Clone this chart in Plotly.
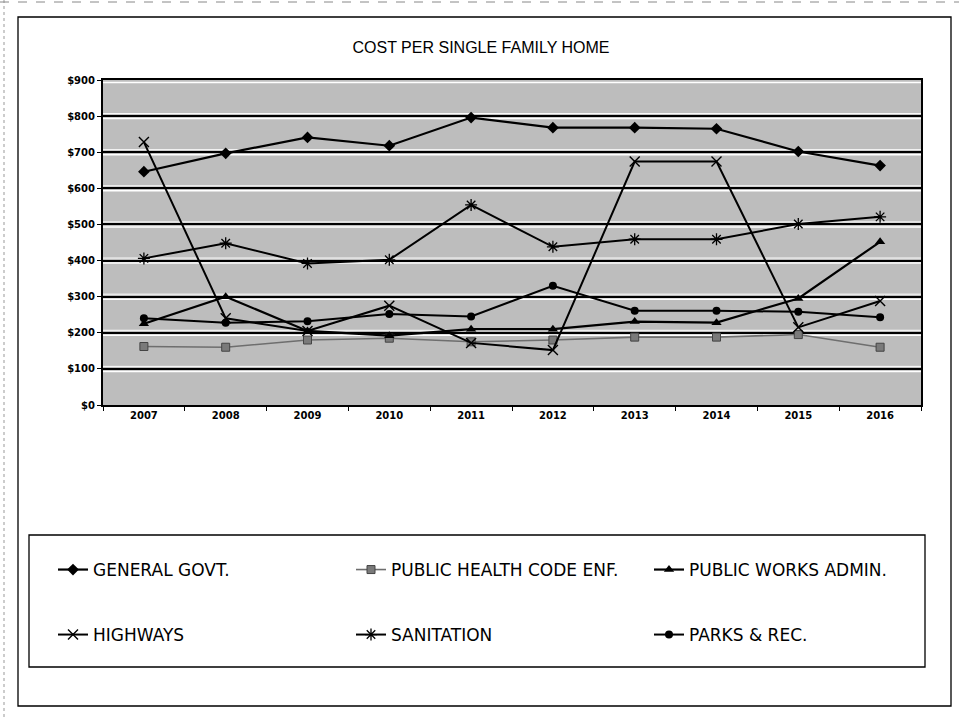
import plotly.graph_objects as go

# Annual cost per single family home, by department
years = ["2007", "2008", "2009", "2010", "2011", "2012", "2013", "2014", "2015", "2016"]
general_govt = [646, 697, 741, 718, 796, 768, 768, 765, 702, 663]
public_health = [162, 160, 180, 185, 175, 180, 188, 188, 195, 160]
public_works = [225, 300, 205, 192, 210, 210, 231, 228, 295, 452]
highways = [728, 240, 205, 275, 172, 152, 674, 674, 215, 288]
sanitation = [406, 448, 392, 402, 554, 438, 459, 459, 501, 521]
parks_rec = [240, 228, 232, 252, 245, 330, 261, 261, 258, 243]

y_ticks = [0, 100, 200, 300, 400, 500, 600, 700, 800, 900]
y_tick_text = ["$0", "$100", "$200", "$300", "$400", "$500", "$600", "$700", "$800", "$900"]

FONT = "Liberation Sans, Arial, sans-serif"
WIDE = "DejaVu Sans, Verdana, sans-serif"

# Plot-area geometry in pixels (used to place paper-referenced frames)
W, H = 959, 717
L, R, T, B = 103, 921, 80, 405
PW, PH = R - L, B - T


def px(x):
    return (x - L) / PW


def py(y):
    return (B - y) / PH


series = [
    dict(name="GENERAL GOVT.", y=general_govt, color="#000000", lw=2.2,
         marker=dict(symbol="diamond", size=9, color="#000000"), legend="legend"),
    dict(name="PUBLIC HEALTH CODE ENF.", y=public_health, color="#6e6e6e", lw=1.6,
         marker=dict(symbol="square", size=8, color="#7a7a7a",
                     line=dict(color="#444444", width=1)), legend="legend"),
    dict(name="PUBLIC WORKS ADMIN.", y=public_works, color="#000000", lw=2.2,
         marker=dict(symbol="triangle-up", size=9, color="#000000"), legend="legend"),
    dict(name="HIGHWAYS", y=highways, color="#000000", lw=2.0,
         marker=dict(symbol="x-thin", size=10, color="#000000",
                     line=dict(color="#000000", width=1.4)), legend="legend2"),
    dict(name="SANITATION", y=sanitation, color="#000000", lw=2.0,
         marker=dict(symbol="asterisk", size=10, color="#000000",
                     line=dict(color="#000000", width=1.3)), legend="legend2"),
    dict(name="PARKS & REC.", y=parks_rec, color="#000000", lw=2.0,
         marker=dict(symbol="circle", size=8, color="#000000"), legend="legend2"),
]

fig = go.Figure()
for s in series:
    fig.add_trace(go.Scatter(
        x=years, y=s["y"], name=s["name"], mode="lines+markers",
        line=dict(color=s["color"], width=s["lw"]),
        marker=s["marker"], legend=s["legend"],
    ))

shapes = []
# White highlight on both sides of each black gridline
for t in y_ticks[1:]:
    shapes.append(dict(type="line", xref="paper", yref="y", x0=0, x1=1,
                       ysizemode="pixel", yanchor=t, y0=-2.5, y1=-2.5,
                       line=dict(color="#ffffff", width=1.5), layer="below"))
    shapes.append(dict(type="line", xref="paper", yref="y", x0=0, x1=1,
                       ysizemode="pixel", yanchor=t, y0=2.5, y1=2.5,
                       line=dict(color="#ffffff", width=1), layer="below"))
# Outer chart frame
shapes.append(dict(type="rect", xref="paper", yref="paper",
                   x0=px(18), x1=px(951), y0=py(706), y1=py(17),
                   line=dict(color="#000000", width=1.3), layer="below"))
# Legend box
shapes.append(dict(type="rect", xref="paper", yref="paper",
                   x0=px(29), x1=px(925), y0=py(667), y1=py(535),
                   line=dict(color="#000000", width=1.3), layer="below"))
# Faint page edges
shapes.append(dict(type="line", xref="paper", yref="paper",
                   x0=px(4), x1=px(4), y0=py(717), y1=py(0),
                   line=dict(color="#999999", width=1, dash="dot")))
shapes.append(dict(type="line", xref="paper", yref="paper",
                   x0=px(0), x1=px(959), y0=py(2), y1=py(2),
                   line=dict(color="#888888", width=1, dash="dash")))

legend_common = dict(
    orientation="h", xanchor="left", yanchor="middle",
    entrywidth=253, entrywidthmode="pixels",
    font=dict(family=WIDE, size=17, color="#000000"),
    bgcolor="rgba(0,0,0,0)", borderwidth=0,
    itemclick=False, itemdoubleclick=False,
)

fig.update_layout(
    width=W, height=H,
    margin=dict(l=L, r=W - R, t=T, b=H - B),
    paper_bgcolor="#ffffff",
    plot_bgcolor="#bdbdbd",
    showlegend=True,
    title=dict(text="COST PER SINGLE FAMILY HOME", x=481 / W, xanchor="center",
               y=1 - 47 / H, yanchor="middle",
               font=dict(family=FONT, size=16, color="#000000")),
    xaxis=dict(
        type="category", range=[-0.5, 9.5],
        showgrid=False, showline=True, linecolor="#000000", linewidth=2,
        mirror=True, ticks="outside", tickson="boundaries", ticklen=4,
        tickcolor="#000000", tickwidth=1,
        tickfont=dict(family=WIDE, size=10, color="#000000", weight="bold"),
        fixedrange=True,
    ),
    yaxis=dict(
        range=[0, 900], tickvals=y_ticks, ticktext=y_tick_text,
        showgrid=True, gridcolor="#000000", gridwidth=2,
        showline=True, linecolor="#000000", linewidth=2, mirror=True,
        ticks="outside", ticklen=4, tickcolor="#000000",
        tickfont=dict(family=WIDE, size=10, color="#000000", weight="bold"),
        zeroline=False, fixedrange=True,
    ),
    legend=dict(x=px(53), y=py(570), **legend_common),
    legend2=dict(x=px(53), y=py(635), **legend_common),
    shapes=shapes,
)

fig.write_html("out.html")
